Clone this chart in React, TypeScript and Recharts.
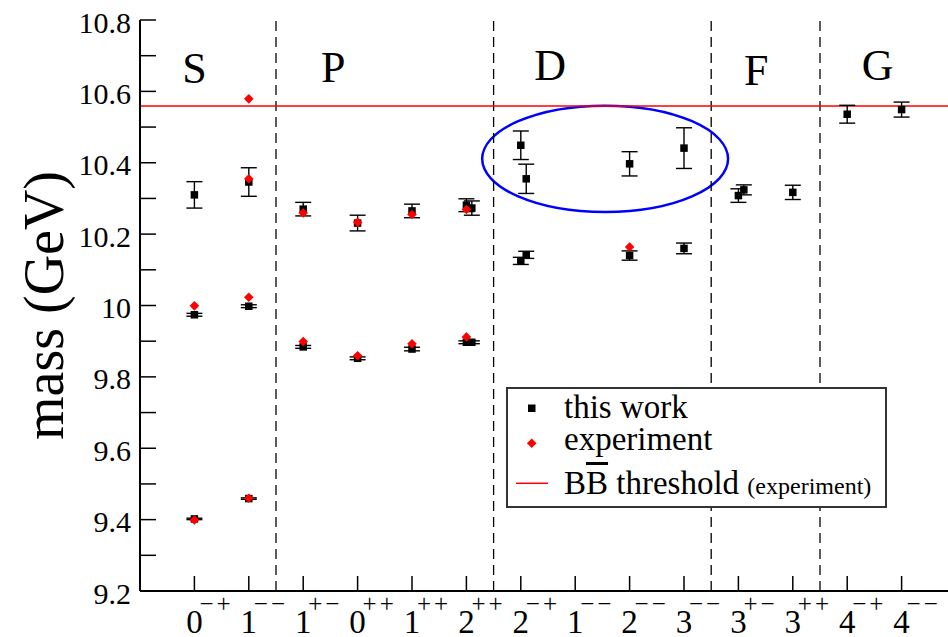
import React from 'react'
import {
  ComposedChart,
  Scatter,
  XAxis,
  YAxis,
  ErrorBar,
  ReferenceLine,
  ReferenceArea,
  ReferenceDot,
  Legend,
} from 'recharts'

const SERIF = 'Liberation Serif'

// J^PC channels on the x axis
const spins = ['0', '1', '1', '0', '1', '2', '2', '1', '2', '3', '3', '3', '4', '4']
const pcLabels = ['−+', '−−', '+−', '++', '++', '++', '−+', '−−', '−−', '−−', '+−', '++', '−+', '−−']
const channelTicks = [0, 1, 2, 3, 4, 5, 6, 7, 8, 9, 10, 11, 12, 13]
const massTicks = [9.2, 9.3, 9.4, 9.5, 9.6, 9.7, 9.8, 9.9, 10, 10.1, 10.2, 10.3, 10.4, 10.5, 10.6, 10.7, 10.8]

// lattice results ("this work"), slight x offsets for the two irreps
const latticeX = [0, 0, 0, 1, 1, 1, 2, 2, 3, 3, 4, 4, 5, 5.1, 5, 5.1, 6, 6.1, 6, 6.1, 8, 8, 9, 9, 10, 10.1, 11, 12, 13]
const latticeMass = [
  9.402, 9.974, 10.31, 9.459, 9.998, 10.346, 9.884, 10.27, 9.852, 10.231, 9.878, 10.265, 9.897, 9.897, 10.281,
  10.273, 10.125, 10.142, 10.449, 10.355, 10.14, 10.397, 10.16, 10.441, 10.308, 10.324, 10.317, 10.536, 10.549,
]
const latticeErr = [
  0.002, 0.004, 0.037, 0.002, 0.004, 0.04, 0.004, 0.019, 0.004, 0.022, 0.005, 0.019, 0.004, 0.004, 0.018, 0.02,
  0.01, 0.01, 0.04, 0.041, 0.013, 0.034, 0.015, 0.057, 0.019, 0.014, 0.02, 0.025, 0.021,
]

// experimental masses
const expX = [0, 0, 1, 1, 1, 1, 2, 2, 3, 3, 4, 4, 5, 5, 8]
const expMass = [9.399, 9.999, 9.46, 10.023, 10.355, 10.579, 9.899, 10.259, 9.859, 10.233, 9.893, 10.255, 9.912, 10.269, 10.164]

const thresholdMass = 10.559
const waveBoundaries = [1.5, 5.5, 9.5, 11.5]
const waveNames = ['S', 'P', 'D', 'F', 'G']
const waveNameX = [0, 2.55, 6.54, 10.33, 12.56]
const waveNameY = [10.623, 10.626, 10.632, 10.618, 10.632]
const circledX = [5.29, 9.81]
const circledY = [10.262, 10.56]

const lattice = latticeX.map((x, i) => ({ x, mass: latticeMass[i], err: latticeErr[i] }))
const experiment = expX.map((x, i) => ({ x, mass: expMass[i] }))

const Square = (p: any) => <rect x={p.cx - 3.75} y={p.cy - 3.75} width={7.5} height={7.5} fill="#000" />

const Diamond = (p: any) => (
  <path d={`M${p.cx},${p.cy - 4.8}L${p.cx + 4.8},${p.cy}L${p.cx},${p.cy + 4.8}L${p.cx - 4.8},${p.cy}Z`} fill="#ff0000" />
)

const BottomTick = ({ x, y, payload }: any) => (
  <g>
    <line x1={x} x2={x} y1={y} y2={y - 15} stroke="#000" strokeWidth={1.5} />
    <text x={x} y={y + 42} textAnchor="middle" fontSize={33} fontFamily={SERIF} fill="#000">
      {spins[payload.value]}
    </text>
    <text x={x + 5} y={y + 21} fontSize={25} letterSpacing={3} fontFamily={SERIF} fill="#000">
      {pcLabels[payload.value]}
    </text>
  </g>
)

const TopTick = ({ x, y }: any) => <line x1={x} x2={x} y1={y} y2={y + 15} stroke="#000" strokeWidth={1.5} />

const LeftTick = ({ x, y, payload }: any) => {
  const v = payload.value
  const major = Math.round(v * 10) % 2 === 0
  return (
    <g>
      <line x1={x} x2={x + 16} y1={y} y2={y} stroke="#000" strokeWidth={1.5} />
      {major && (
        <text x={x - 9} y={y + 12.5} textAnchor="end" fontSize={30} fontFamily={SERIF} fill="#000">
          {String(Math.round(v * 10) / 10)}
        </text>
      )}
    </g>
  )
}

const RightTick = ({ x, y, payload }: any) => {
  const major = Math.round(payload.value * 10) % 2 === 0
  return <line x1={x} x2={x - (major ? 16 : 8)} y1={y} y2={y} stroke="#000" strokeWidth={1.5} />
}

const MassLabel = ({ viewBox }: any) => (
  <text
    transform={`translate(${viewBox.x + 63},${viewBox.y + viewBox.height / 2}) rotate(-90)`}
    textAnchor="middle"
    fontSize={56}
    fontFamily={SERIF}
    fill="#000"
  >
    mass (GeV)
  </text>
)

const textStyle: React.CSSProperties = {
  position: 'absolute',
  left: 58,
  fontSize: 33,
  lineHeight: '28px',
  whiteSpace: 'nowrap',
  fontFamily: SERIF,
  color: '#000',
}

const LegendBox = () => (
  <div style={{ position: 'relative', width: 381, height: 121, background: '#fff' }}>
    <svg width={381} height={121} style={{ position: 'absolute', left: 0, top: 0 }}>
      <rect x={1} y={1} width={379} height={119} fill="#fff" stroke="#333" strokeWidth={2} />
      <rect x={22} y={17.5} width={7.5} height={7.5} fill="#000" />
      <path d="M25.7,51.5L30.5,56.3L25.7,61.1L20.9,56.3Z" fill="#ff0000" />
      <line x1={10} x2={42} y1={96.3} y2={96.3} stroke="#ff0000" strokeWidth={1.5} />
    </svg>
    <span style={{ ...textStyle, top: 6.2 }}>this work</span>
    <span style={{ ...textStyle, top: 37.9 }}>experiment</span>
    <span style={{ ...textStyle, top: 82.2 }}>
      B<span style={{ textDecoration: 'overline' }}>B</span> threshold{' '}
      <span style={{ fontSize: 24 }}>(experiment)</span>
    </span>
  </div>
)

export default function App() {
  return (
    <div
      style={{
        position: 'absolute',
        left: 0,
        top: 0,
        width: 948,
        height: 637,
        overflow: 'hidden',
        background: '#fff',
        fontFamily: SERIF,
      }}
    >
      <ComposedChart width={960} height={637} margin={{ top: 20, right: 4, bottom: 0, left: 0 }}>
        <XAxis
          dataKey="x"
          type="number"
          domain={[-1, 14]}
          ticks={channelTicks}
          interval={0}
          allowDataOverflow
          height={46}
          tickSize={0}
          tickMargin={0}
          tickLine={false}
          tick={<BottomTick />}
          axisLine={{ stroke: '#000', strokeWidth: 2 }}
        />
        <XAxis
          xAxisId="top"
          orientation="top"
          type="number"
          domain={[-1, 14]}
          ticks={channelTicks}
          interval={0}
          allowDataOverflow
          height={0}
          tickSize={0}
          tickMargin={0}
          tickLine={false}
          tick={<TopTick />}
          axisLine={{ stroke: '#000', strokeWidth: 2 }}
        />
        <YAxis
          dataKey="mass"
          type="number"
          domain={[9.2, 10.8]}
          ticks={massTicks}
          interval={0}
          allowDataOverflow
          width={140}
          tickSize={0}
          tickMargin={0}
          tickLine={false}
          tick={<LeftTick />}
          axisLine={{ stroke: '#000', strokeWidth: 2 }}
          label={<MassLabel />}
        />
        <YAxis
          yAxisId="right"
          orientation="right"
          type="number"
          domain={[9.2, 10.8]}
          ticks={massTicks}
          interval={0}
          allowDataOverflow
          width={0}
          tickSize={0}
          tickMargin={0}
          tickLine={false}
          tick={<RightTick />}
          axisLine={{ stroke: '#000', strokeWidth: 2 }}
        />
        {waveBoundaries.map((b) => (
          <ReferenceLine key={b} x={b} stroke="#000" strokeWidth={1.3} strokeDasharray="10 6" />
        ))}
        <ReferenceLine y={thresholdMass} stroke="#ff0000" strokeWidth={1.5} />
        <ReferenceArea
          x1={circledX[0]}
          x2={circledX[1]}
          y1={circledY[0]}
          y2={circledY[1]}
          shape={(p: any) => (
            <ellipse
              cx={p.x + p.width / 2}
              cy={p.y + p.height / 2}
              rx={p.width / 2}
              ry={p.height / 2}
              fill="none"
              stroke="#0000ff"
              strokeWidth={2.5}
            />
          )}
        />
        {waveNames.map((n, i) => (
          <ReferenceDot
            key={n}
            x={waveNameX[i]}
            y={waveNameY[i]}
            r={0}
            shape={(p: any) => (
              <text x={p.cx} y={p.cy} textAnchor="middle" fontSize={44} fontFamily={SERIF} fill="#000">
                {n}
              </text>
            )}
          />
        ))}
        <Scatter name="this work" data={lattice} shape={Square} isAnimationActive={false}>
          <ErrorBar dataKey="err" direction="y" width={8} stroke="#000" strokeWidth={1.4} isAnimationActive={false} />
        </Scatter>
        <Scatter name="experiment" data={experiment} shape={Diamond} isAnimationActive={false} />
        <Legend
          layout="vertical"
          align="center"
          verticalAlign="middle"
          content={<LegendBox />}
          wrapperStyle={{ left: 506, top: 387, width: 381, height: 121 }}
        />
      </ComposedChart>
    </div>
  )
}
